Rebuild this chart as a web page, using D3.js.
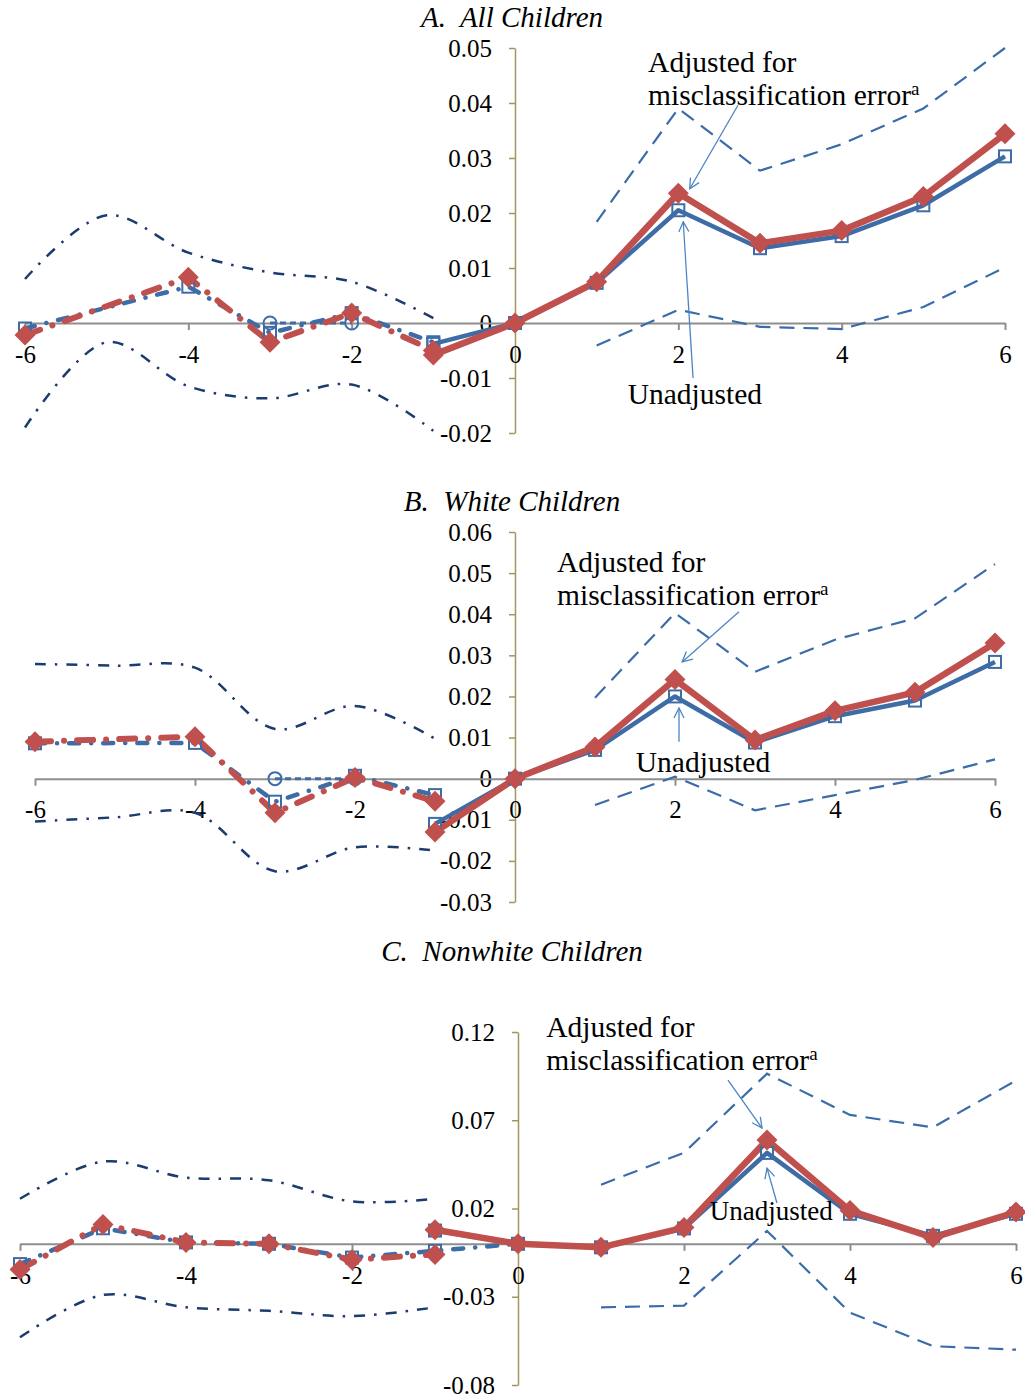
<!DOCTYPE html>
<html>
<head>
<meta charset="utf-8">
<script src="https://cdn.jsdelivr.net/npm/d3@7"></script>
<style>
  body { margin: 0; background: #fff; }
  svg text { font-family: "Liberation Serif", serif; fill: #000; }
</style>
</head>
<body>
<svg id="chart" width="1025" height="1397"></svg>
<script>
// ---- data (event time on x, effect on y) ----
const preX = [-6, -5, -4, -3, -2, -1];
const preXC = [-6, -5, -4, -3, -2, -1, 0];
const postX = [-1, 0, 1, 2, 3, 4, 5, 6];
const ciPostX = [1, 2, 3, 4, 5, 6];
const refX = [-3, -2];
const refY = [0, 0];
const xTicks = [-6, -4, -2, 0, 2, 4, 6];

// A. All Children
const aPreUnadj = [-0.001, null, 0.0066, -0.0018, 0.0018, -0.0035];
const aPreAdj = [-0.0022, null, 0.0083, -0.0035, 0.0018, -0.005];
const aPreHi = [0.008, 0.0196, 0.0128, 0.0092, 0.0075, 0.0009];
const aPreLo = [-0.019, -0.0035, -0.0115, -0.0137, -0.0112, -0.0196];
const aPostUnadj = [-0.0038, 0, 0.0073, 0.0205, 0.0136, 0.0158, 0.0214, 0.0303];
const aPostAdj = [-0.0058, 0, 0.0075, 0.0236, 0.0145, 0.0168, 0.023, 0.0344];
const aPostHi = [0.0184, 0.039, 0.0277, 0.0325, 0.039, 0.050];
const aPostLo = [-0.0041, 0.0024, -0.0007, -0.0011, 0.0029, 0.0101];
const aTicks = [-0.02, -0.01, 0, 0.01, 0.02, 0.03, 0.04, 0.05];

// B. White Children
const bPreUnadj = [0.0086, null, 0.0087, -0.0056, 0.0007, -0.004];
const bPreAdj = [0.009, null, 0.0102, -0.0083, 0.0003, -0.0055];
const bPreHi = [0.0279, 0.0275, 0.027, 0.0121, 0.0177, 0.0097];
const bPreLo = [-0.0104, -0.0094, -0.0083, -0.0225, -0.0167, -0.0175];
const bPostUnadj = [-0.011, 0, 0.007, 0.02, 0.0088, 0.0152, 0.019, 0.0284];
const bPostAdj = [-0.013, 0, 0.0077, 0.0241, 0.0094, 0.0165, 0.021, 0.033];
const bPostHi = [0.0197, 0.0403, 0.026, 0.0338, 0.039, 0.0522];
const bPostLo = [-0.0064, 0.0005, -0.0077, -0.004, -0.0003, 0.0047];
const bTicks = [-0.03, -0.02, -0.01, 0, 0.01, 0.02, 0.03, 0.04, 0.05, 0.06];

// C. Nonwhite Children
const cPreUnadj = [-0.0115, 0.0088, 0.0008, 0.0, -0.0078, -0.004, 0];
const cPreAdj = [-0.0145, 0.011, 0.0008, 0.0, -0.009, -0.006, null];
const cPreHi = [0.0255, 0.0466, 0.0375, 0.036, 0.024, 0.0255];
const cPreLo = [-0.053, -0.029, -0.036, -0.038, -0.041, -0.036];
const cPostUnadj = [0.0075, 0, -0.002, 0.0087, 0.0515, 0.017, 0.0045, 0.017];
const cPostAdj = [0.008, 0, -0.002, 0.0092, 0.0588, 0.0188, 0.0035, 0.018];
const cPostHi = [0.0335, 0.0516, 0.0964, 0.073, 0.066, 0.0925];
const cPostLo = [-0.036, -0.035, 0.0073, -0.039, -0.058, -0.060];
const cTicks = [-0.08, -0.03, 0.02, 0.07, 0.12];

// ---- styles ----
const BLUE = "#3d6ca7";
const RED = "#c0504d";
const NAVY = "#1c3b6e";
const CI_BLUE = "#3b6caa";
const ARROW = "#4d84c4";
const AXIS_Y = "#a3955f";
const AXIS_X = "#8e8e8e";

const panels = [
  {
    title: "A.  All Children", titleY: 27,
    xRange: [25, 1005], yDomain: [-0.02, 0.05], yRange: [433, 48], yTicks: aTicks,
    preX: preX, preUnadj: aPreUnadj, preAdj: aPreAdj, preHi: aPreHi, preLo: aPreLo,
    postUnadj: aPostUnadj, postAdj: aPostAdj, postHi: aPostHi, postLo: aPostLo, ref: true,
    adjText: [1.63, 0.0456], adjArrow: [[2.73, 0.0396], [2.14, 0.0244]],
    unText: [1.38, -0.0147], unArrow: [[2.18, -0.0100], [2.06, 0.0184]], unSize: 29.5
  },
  {
    title: "B.  White Children", titleY: 511,
    xRange: [35, 995], yDomain: [-0.03, 0.06], yRange: [902, 532], yTicks: bTicks,
    preX: preX, preUnadj: bPreUnadj, preAdj: bPreAdj, preHi: bPreHi, preLo: bPreLo,
    postUnadj: bPostUnadj, postAdj: bPostAdj, postHi: bPostHi, postLo: bPostLo, ref: true,
    adjText: [0.525, 0.0503], adjArrow: [[2.8, 0.0406], [2.09, 0.0284]],
    unText: [1.51, 0.0017], unArrow: [[2.05, 0.009], [2.05, 0.0172]], unSize: 29.5
  },
  {
    title: "C.  Nonwhite Children", titleY: 961,
    xRange: [20, 1016], yDomain: [-0.08, 0.12], yRange: [1385, 1032], yTicks: cTicks,
    preX: preXC, preUnadj: cPreUnadj, preAdj: cPreAdj, preHi: cPreHi, preLo: cPreLo,
    postUnadj: cPostUnadj, postAdj: cPostAdj, postHi: cPostHi, postLo: cPostLo, ref: false,
    adjText: [0.34, 0.117], adjArrow: [[2.53, 0.0928], [2.94, 0.0656]],
    unText: [2.31, 0.0135], unArrow: [[3.12, 0.0231], [3.0, 0.0429]], unSize: 27
  }
];

const svg = d3.select("#chart");

svg.append("defs").append("marker")
  .attr("id", "arrowhead")
  .attr("viewBox", "0 0 12 12")
  .attr("refX", 11).attr("refY", 6)
  .attr("markerWidth", 12).attr("markerHeight", 12)
  .attr("markerUnits", "userSpaceOnUse")
  .attr("orient", "auto")
  .append("path")
  .attr("d", "M1,1 L11,6 L1,11")
  .attr("fill", "none")
  .attr("stroke", ARROW)
  .attr("stroke-width", 1.3);

function fmtTick(v) {
  if (Math.abs(v) < 1e-9) return "0";
  return d3.format(".2f")(v).replace("\u2212", "-");
}

function pairs(xs, ys) {
  return xs.map((x, i) => ({ x: x, y: ys[i] })).filter(d => d.y !== null && d.y !== undefined);
}

function drawPanel(p) {
  const x = d3.scaleLinear().domain([-6, 6]).range(p.xRange);
  const y = d3.scaleLinear().domain(p.yDomain).range(p.yRange);
  const g = svg.append("g");

  // title
  g.append("text")
    .attr("x", 512).attr("y", p.titleY)
    .attr("text-anchor", "middle")
    .style("font-style", "italic")
    .style("font-size", "29px")
    .style("white-space", "pre")
    .text(p.title);

  // y axis
  const yAxis = g.append("g")
    .attr("transform", `translate(${x(0)},0)`)
    .call(d3.axisLeft(y).tickValues(p.yTicks).tickFormat(fmtTick).tickSizeInner(6).tickSizeOuter(0).tickPadding(17));
  yAxis.attr("font-family", null);
  yAxis.select(".domain").attr("stroke", AXIS_Y).attr("stroke-width", 1.5);
  yAxis.selectAll(".tick line").attr("stroke", AXIS_Y).attr("stroke-width", 1.5);
  yAxis.selectAll("text").style("font-size", "25px").attr("fill", "#000");

  // x axis crossing at y = 0
  const xAxis = g.append("g")
    .attr("transform", `translate(0,${y(0)})`)
    .call(d3.axisBottom(x).tickValues(xTicks).tickFormat(d => d3.format("d")(d).replace("\u2212", "-"))
      .tickSizeInner(7).tickSizeOuter(0).tickPadding(15));
  xAxis.attr("font-family", null);
  xAxis.select(".domain").attr("stroke", AXIS_X).attr("stroke-width", 2);
  xAxis.selectAll(".tick line").attr("stroke", AXIS_X).attr("stroke-width", 2);
  xAxis.selectAll("text").style("font-size", "25px").attr("fill", "#000");

  const straight = d3.line().x(d => x(d.x)).y(d => y(d.y));
  const smooth = d3.line().x(d => x(d.x)).y(d => y(d.y)).curve(d3.curveCatmullRom.alpha(0.5));

  // pre-period confidence bands (smoothed dash-dot)
  [p.preHi, p.preLo].forEach(vals => {
    g.append("path")
      .datum(pairs(preX, vals))
      .attr("d", smooth)
      .attr("fill", "none")
      .attr("stroke", NAVY)
      .attr("stroke-width", 2.5)
      .attr("stroke-dasharray", "11,9,2.5,9");
  });

  // post-period confidence bands (dashed)
  [p.postHi, p.postLo].forEach(vals => {
    g.append("path")
      .datum(pairs(ciPostX, vals))
      .attr("d", straight)
      .attr("fill", "none")
      .attr("stroke", CI_BLUE)
      .attr("stroke-width", 2.2)
      .attr("stroke-dasharray", "15,9");
  });

  // reference period marks
  if (p.ref) {
    const ref = pairs(refX, refY);
    g.append("path")
      .datum(ref)
      .attr("d", straight)
      .attr("fill", "none")
      .attr("stroke", BLUE)
      .attr("stroke-width", 3)
      .attr("stroke-dasharray", "6,4");
    g.selectAll(null).data(ref).join("circle")
      .attr("cx", d => x(d.x)).attr("cy", d => y(d.y)).attr("r", 6.5)
      .attr("fill", "none").attr("stroke", BLUE).attr("stroke-width", 2);
  }

  // pre-period estimates (dash-dot)
  g.append("path")
    .datum(pairs(p.preX, p.preUnadj))
    .attr("d", straight)
    .attr("fill", "none")
    .attr("stroke", BLUE)
    .attr("stroke-width", 4.5)
    .attr("stroke-linecap", "round")
    .attr("stroke-dasharray", "10,12,0.1,12");
  g.append("path")
    .datum(pairs(p.preX, p.preAdj))
    .attr("d", straight)
    .attr("fill", "none")
    .attr("stroke", RED)
    .attr("stroke-width", 6)
    .attr("stroke-linecap", "round")
    .attr("stroke-dasharray", "16,13,0.1,13");

  // post-period estimates (solid)
  g.append("path")
    .datum(pairs(postX, p.postUnadj))
    .attr("d", straight)
    .attr("fill", "none")
    .attr("stroke", BLUE)
    .attr("stroke-width", 4.5)
    .attr("stroke-linejoin", "round");
  g.append("path")
    .datum(pairs(postX, p.postAdj))
    .attr("d", straight)
    .attr("fill", "none")
    .attr("stroke", RED)
    .attr("stroke-width", 6.5)
    .attr("stroke-linejoin", "round");

  // markers: unadjusted squares, adjusted diamonds
  const sq = pairs(p.preX, p.preUnadj).filter(d => !(p.preX.length > 6 && d.x === 0)).concat(pairs(postX, p.postUnadj));
  g.selectAll(null).data(sq).join("rect")
    .attr("x", d => x(d.x) - 6).attr("y", d => y(d.y) - 6)
    .attr("width", 12).attr("height", 12)
    .attr("fill", "none").attr("stroke", BLUE).attr("stroke-width", 2);
  const dm = pairs(p.preX, p.preAdj).concat(pairs(postX, p.postAdj));
  g.selectAll(null).data(dm).join("path")
    .attr("transform", d => `translate(${x(d.x)},${y(d.y)})`)
    .attr("d", "M0,-10.5 L10.5,0 L0,10.5 L-10.5,0 Z")
    .attr("fill", RED);

  // annotations
  const adj = g.append("text")
    .attr("x", x(p.adjText[0])).attr("y", y(p.adjText[1]))
    .style("font-size", "29.5px");
  adj.append("tspan").text("Adjusted for");
  const l2 = adj.append("tspan").attr("x", x(p.adjText[0])).attr("dy", 33);
  l2.append("tspan").text("misclassification error");
  l2.append("tspan").attr("dy", -10).style("font-size", "19px").text("a");

  g.append("text")
    .attr("x", x(p.unText[0])).attr("y", y(p.unText[1]))
    .style("font-size", p.unSize + "px")
    .text("Unadjusted");

  [p.adjArrow, p.unArrow].forEach(a => {
    g.append("line")
      .attr("x1", x(a[0][0])).attr("y1", y(a[0][1]))
      .attr("x2", x(a[1][0])).attr("y2", y(a[1][1]))
      .attr("stroke", ARROW).attr("stroke-width", 1.3)
      .attr("marker-end", "url(#arrowhead)");
  });
}

panels.forEach(drawPanel);
</script>
</body>
</html>
